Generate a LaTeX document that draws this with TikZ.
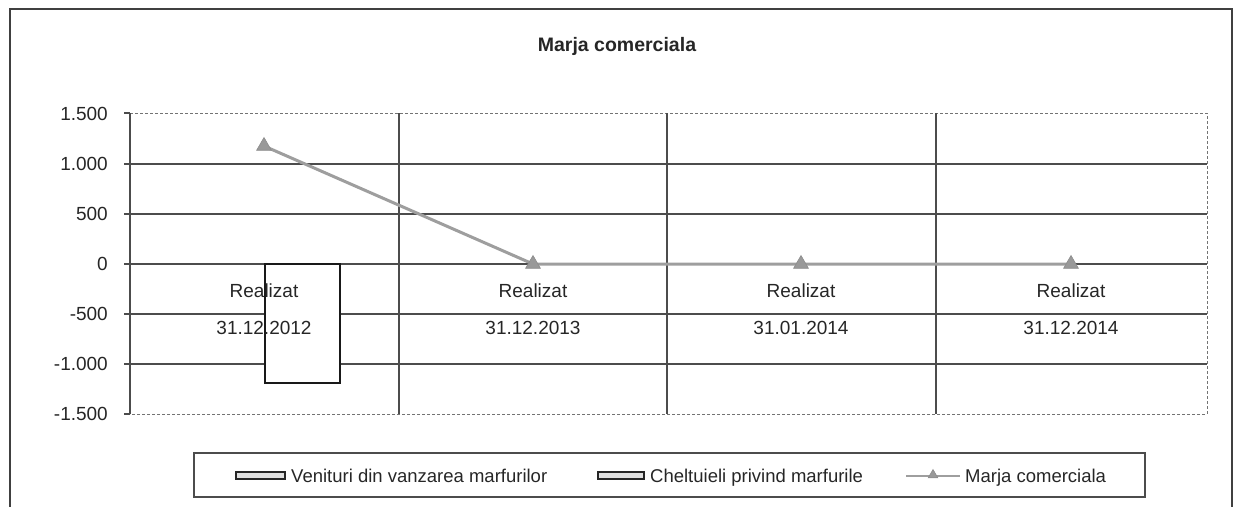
\documentclass[tikz,border=0pt]{standalone}
\usepackage{fontspec}
\setmainfont{Liberation Sans}
\usetikzlibrary{shapes.geometric}
\tikzset{
  frame/.style={draw=black!75, line width=1.6pt},
  grid/.style={draw=black!70, line width=1.1pt},
  pborder/.style={draw=black!55, line width=1pt, densely dashed},
  barbox/.style={draw=black!90, line width=1.8pt, fill=white},
  marja/.style={draw=black!38, line width=3pt},
  tri/.style={regular polygon, regular polygon sides=3, minimum size=17pt, inner sep=0pt, fill=black!40, draw=black!45, line width=0.6pt},
  ylab/.style={anchor=east, inner sep=0pt, font=\fontsize{19}{22}\selectfont, text=black!85},
  catlab/.style={anchor=base, inner sep=0pt, font=\fontsize{19}{22}\selectfont, text=black!85},
  legtext/.style={anchor=base west, inner sep=0pt, font=\fontsize{18.5}{22}\selectfont, text=black!85},
  swatch/.style={draw=black!85, line width=2pt, fill=black!12},
}
\begin{document}
\begin{tikzpicture}[x=1pt, y=-1pt]
\useasboundingbox (0,0) rectangle (1234,506);
% outer frame
\draw[frame] (10,510) -- (10,9) -- (1232,9) -- (1232,510);
% title
\node[font=\bfseries\fontsize{19.5}{22}\selectfont, text=black!85] (title) at (617,46) {Marja comerciala};
% plot area border (top/right/bottom)
\draw[pborder] (130,113) -- (1207,113) -- (1207,414) -- (130,414);
% horizontal gridlines and ticks
\foreach \v in {1000, 500, 0, -500, -1000} {
  \draw[grid] (124,{264-\v/10}) -- (1207,{264-\v/10});
}
\draw[grid] (124,113) -- (130,113);
\draw[grid] (124,414) -- (130,414);
\foreach \v/\lab in {1500/1.500, 1000/1.000, 500/500, 0/0, -500/-500, -1000/-1.000, -1500/-1.500} {
  \node[ylab] (y\v) at (108,{264-\v/10}) {\lab};
}
% vertical gridlines
\foreach \x in {130,399,667,936} {
  \draw[grid] (\x,113) -- (\x,414);
}
% bar (Cheltuieli 2012)
\draw[barbox] (265,264) rectangle (340,383);
% category labels
\foreach \c/\d/\n in {264/31.12.2012/1, 533/31.12.2013/2, 801/31.01.2014/3, 1071/31.12.2014/4} {
  \node[catlab] (r\n) at (\c,297) {Realizat};
  \node[catlab] (d\n) at (\c,334) {\d};
}
% Marja comerciala series
\coordinate (p1) at (264,146);
\coordinate (p2) at (533,264);
\coordinate (p3) at (801,264);
\coordinate (p4) at (1071,264);
\draw[marja] (p1) -- (p2) -- (p3) -- (p4);
\foreach \n in {1,2,3,4} { \node[tri] (m\n) at (p\n) {}; }
% legend
\draw[draw=black!70, line width=1.2pt] (194,453) rectangle (1145,497);
\draw[swatch] (236,472) rectangle (285,479);
\node[legtext] (l1) at (291,482) {Venituri din vanzarea marfurilor};
\draw[swatch] (598,472) rectangle (644,479);
\node[legtext] (l2) at (650,482) {Cheltuieli privind marfurile};
\coordinate (ls1) at (906,476);
\coordinate (ls2) at (960,476);
\draw[draw=black!38, line width=2pt] (ls1) -- (ls2);
\node[tri, minimum size=11pt] (lm) at (933,475) {};
\node[legtext] (l3) at (965,482) {Marja comerciala};
\end{tikzpicture}
\end{document}
